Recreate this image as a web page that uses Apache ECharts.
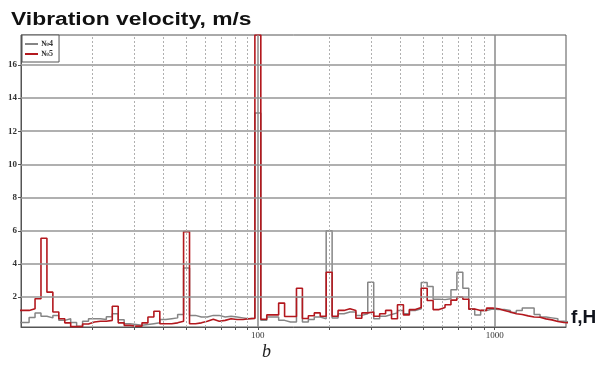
<!DOCTYPE html>
<html lang="en">
<head>
  <meta charset="UTF-8">
  <title>Vibration velocity</title>
  <script src="https://cdn.jsdelivr.net/npm/echarts@6/dist/echarts.min.js"></script>
  <style>
    html, body { margin: 0; padding: 0; background: #fff; }
    #main { width: 606px; height: 365px; }
  </style>
</head>
<body>
  <div id="main"></div>
  <script>
    // 1/12-octave band numbers, band centre = 100 * 2^(k/12)
    var bandK = [];
    for (var k = -40; k <= 52; k++) bandK.push(k);

    // №4 (grey) band values, m/s
    var s4 = [0.47, 0.47, 0.77, 1.04, 0.85, 0.75, 0.9, 0.6, 0.7, 0.47,
              0.25, 0.55, 0.7, 0.7, 0.65, 0.82, 1.0, 0.63, 0.4, 0.35,
              0.3, 0.35, 0.4, 0.45, 0.65, 0.7, 0.75, 0.95, 3.75, 0.9,
              0.8, 0.8, 0.9, 0.9, 0.8, 0.85, 0.8, 0.75, 0.7, 0.72,
              13.1, 0.6, 0.8, 0.8, 0.6, 0.5, 0.5, 2.0, 0.5, 0.65,
              0.8, 0.7, 6.0, 0.75, 1.0, 1.1, 1.1, 0.9, 1.0, 2.9,
              0.7, 0.85, 0.95, 1.05, 1.2, 1.0, 1.2, 1.3, 2.88, 2.64,
              1.88, 1.85, 1.9, 2.44, 3.5, 2.54, 1.28, 0.93, 1.2, 1.28,
              1.25, 1.25, 1.2, 1.07, 1.2, 1.34, 1.34, 0.95, 0.8, 0.75,
              0.7, 0.55, 0.5];

    // №5 (red) band values, m/s
    var s5 = [1.2, 1.2, 1.3, 1.9, 5.55, 2.3, 1.1, 0.7, 0.45, 0.22,
              0.22, 0.38, 0.5, 0.55, 0.55, 0.6, 1.45, 0.45, 0.3, 0.25,
              0.25, 0.45, 0.8, 1.15, 0.4, 0.4, 0.45, 0.55, 5.95, 0.4,
              0.45, 0.55, 0.67, 0.55, 0.6, 0.7, 0.65, 0.65, 0.7, 0.72,
              17.8, 0.67, 0.93, 0.93, 1.64, 0.83, 0.83, 2.54, 0.71, 0.88,
              1.05, 0.85, 3.5, 0.85, 1.2, 1.3, 1.2, 0.73, 1.05, 1.1,
              0.85, 1.0, 1.2, 0.7, 1.54, 0.93, 1.25, 1.37, 2.54, 1.8,
              1.25, 1.37, 1.54, 1.82, 2.0, 1.87, 1.28, 1.2, 1.2, 1.34,
              1.3, 1.2, 1.1, 1.0, 0.95, 0.87, 0.8, 0.79, 0.69, 0.63,
              0.53, 0.47, 0.45];

    var yTicks = [2, 4, 6, 8, 10, 12, 14, 16];
    var xMinor = [20, 30, 40, 50, 60, 70, 80, 90, 200, 300, 400, 500, 600, 700, 800, 900];
    var xMajor = [100, 1000];

    // step data: each band drawn from its lower edge, closed at the upper edge of the last one
    function stepData(vals) {
      var out = [];
      for (var i = 0; i < bandK.length; i++) {
        out.push([100 * Math.pow(2, (bandK[i] - 0.5) / 12), vals[i]]);
      }
      var last = bandK[bandK.length - 1];
      out.push([100 * Math.pow(2, (last + 0.5) / 12), vals[vals.length - 1]]);
      return out;
    }

    var gridLines = [];
    yTicks.forEach(function (v) {
      gridLines.push({ yAxis: v, lineStyle: { color: '#969696', width: 1.5, type: 'solid' } });
    });
    xMinor.forEach(function (v) {
      gridLines.push({ xAxis: v, lineStyle: { color: '#b0b0b0', width: 1, type: [2, 2] } });
    });
    xMajor.forEach(function (v) {
      gridLines.push({ xAxis: v, lineStyle: { color: '#8a8a8a', width: 1.5, type: 'solid' } });
    });

    var mChart = echarts.init(document.getElementById('main'));
    var option = {
      animation: false,
      legend: {
        data: ['№4', '№5'],
        orient: 'vertical',
        left: 22, top: 35,
        padding: [5, 6, 4, 3],
        itemGap: 2,
        itemWidth: 13, itemHeight: 2,
        icon: 'rect',
        backgroundColor: '#fff',
        borderColor: '#555', borderWidth: 1,
        textStyle: { fontFamily: 'Liberation Serif', fontSize: 8, fontWeight: 'bold', color: '#333', padding: [0, 0, 0, -2] }
      },
      grid: {
        left: 21, right: 40, top: 35, bottom: 38,
        show: true, borderColor: '#555', borderWidth: 1
      },
      xAxis: {
        type: 'log', logBase: 10, min: 10, max: 2000,
        axisLine: { show: true, lineStyle: { color: '#555' } },
        axisTick: { show: true, customValues: xMinor.concat(xMajor), length: 3, lineStyle: { color: '#555' } },
        axisLabel: {
          customValues: xMajor,
          formatter: function (v) { return String(Math.round(v)); },
          fontFamily: 'Liberation Serif', fontSize: 9, color: '#333', margin: 4
        },
        splitLine: { show: false }
      },
      yAxis: {
        type: 'value', min: 0.2, max: 17.8,
        axisLine: { show: true, lineStyle: { color: '#555' } },
        axisTick: { show: true, customValues: yTicks, length: 3, lineStyle: { color: '#555' } },
        axisLabel: { customValues: yTicks, fontFamily: 'Liberation Serif', fontSize: 9, fontWeight: 'bold', color: '#333', margin: 4 },
        splitLine: { show: false }
      },
      series: [
        {
          name: 'grid',
          type: 'line',
          data: [[10, 1]],
          showSymbol: false,
          lineStyle: { width: 0 },
          silent: true,
          z: 1,
          markLine: { silent: true, symbol: 'none', label: { show: false }, data: gridLines }
        },
        {
          name: '№4',
          type: 'line',
          step: 'end',
          data: stepData(s4),
          showSymbol: false,
          color: '#858585',
          lineStyle: { width: 1.5 },
          z: 3
        },
        {
          name: '№5',
          type: 'line',
          step: 'end',
          data: stepData(s5),
          showSymbol: false,
          color: '#b3181e',
          lineStyle: { width: 1.6 },
          z: 4
        }
      ],
      graphic: [
        // title is wide in the original, so it is stretched sideways
        { type: 'text', x: 11, y: 11, scaleX: 1.27,
          style: { text: 'Vibration velocity, m/s', fontFamily: 'Liberation Sans', fontWeight: 'bold', fontSize: 18, fill: '#111' } },
        { type: 'text', left: 571, top: 308, style: { text: 'f,H', fontFamily: 'Liberation Sans', fontWeight: 'bold', fontSize: 19, fill: '#10131c' } },
        { type: 'text', left: 262, top: 343, style: { text: 'b', fontFamily: 'Liberation Serif', fontStyle: 'italic', fontSize: 18, fill: '#222' } }
      ]
    };
    mChart.setOption(option);
  </script>
</body>
</html>
